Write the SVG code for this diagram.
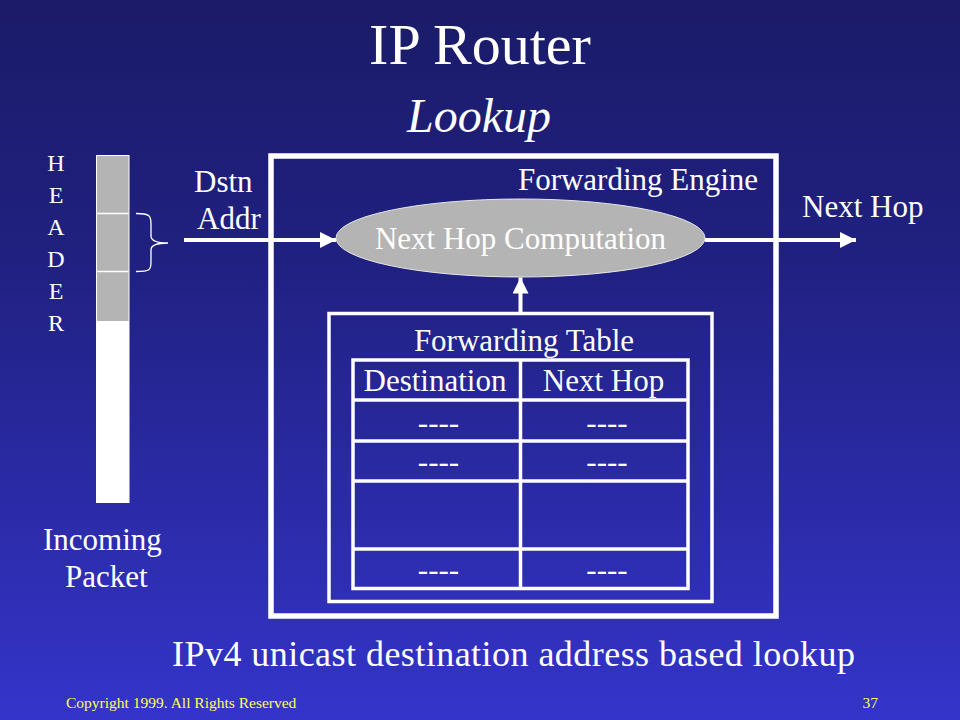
<svg xmlns="http://www.w3.org/2000/svg" width="960" height="720" viewBox="0 0 960 720">
<defs>
<linearGradient id="bg" x1="0" y1="0" x2="0" y2="1">
<stop offset="0" stop-color="#1b1b69"/>
<stop offset="0.35" stop-color="#202080"/>
<stop offset="1" stop-color="#3434ca"/>
</linearGradient>
<marker id="ah" viewBox="0 0 10 10" refX="10" refY="5" markerWidth="4" markerHeight="4" markerUnits="strokeWidth" orient="auto">
<path d="M0,0 L10,5 L0,10 z" fill="#ffffff"/>
</marker>
<style>
text{font-family:"Liberation Serif","Times New Roman",serif;fill:#ffffff}
.t{font-size:31px}
.c{text-anchor:middle}
.box{fill:none;stroke:#ffffff}
.conn{stroke:#ffffff;stroke-width:4;fill:none}
.foot{font-size:15.5px;fill:#ffff55}
</style>
</defs>
<rect x="0" y="0" width="960" height="720" fill="url(#bg)"/>

<g id="title">
<text x="480" y="64" class="c" font-size="58">IP Router</text>
<text x="479" y="132" class="c" font-size="48" font-style="italic">Lookup</text>
</g>

<g id="packet">
<rect x="96.5" y="155.5" width="32.5" height="347" fill="#ffffff" stroke="#ffffff" stroke-width="1"/>
<rect x="97" y="156" width="31.5" height="165" fill="#b4b4b4"/>
<line x1="97" y1="213.5" x2="128.5" y2="213.5" stroke="#ffffff" stroke-width="1.5"/>
<line x1="97" y1="271.5" x2="128.5" y2="271.5" stroke="#ffffff" stroke-width="1.5"/>
<path d="M136,213.5 C150,213.5 151,216 151,224 L151,236 C151,241 156,243 168,243 C156,243 151,245 151,250 L151,262 C151,270 150,271.5 136,271.5" fill="none" stroke="#ffffff" stroke-width="1.3"/>
<g font-size="24" class="c">
<text x="56" y="171" class="c" font-size="24">H</text>
<text x="56" y="203" class="c" font-size="24">E</text>
<text x="56" y="235" class="c" font-size="24">A</text>
<text x="56" y="267" class="c" font-size="24">D</text>
<text x="56" y="299" class="c" font-size="24">E</text>
<text x="56" y="331" class="c" font-size="24">R</text>
</g>
<text x="43" y="550" class="t">Incoming</text>
<text x="65" y="587" class="t">Packet</text>
</g>

<g id="engine">
<rect x="271" y="156" width="505" height="460" class="box" stroke-width="5.5"/>
<text x="638" y="190" class="t c">Forwarding Engine</text>
</g>

<g id="nexthopcomp">
<ellipse cx="520.5" cy="238" rx="184.5" ry="39" fill="#b4b4b4" stroke="#e6e6e6" stroke-width="1"/>
<text x="520.5" y="249" class="t c">Next Hop Computation</text>
</g>

<g id="table">
<rect x="329" y="313.5" width="383" height="288" class="box" stroke-width="3.5"/>
<text x="524" y="351" class="t c">Forwarding Table</text>
<rect x="353" y="360" width="335" height="228.5" class="box" stroke-width="3.5"/>
<line x1="520.5" y1="360" x2="520.5" y2="588.5" stroke="#ffffff" stroke-width="3.5"/>
<line x1="353" y1="400" x2="688" y2="400" stroke="#ffffff" stroke-width="3.5"/>
<line x1="353" y1="441" x2="688" y2="441" stroke="#ffffff" stroke-width="3.5"/>
<line x1="353" y1="481" x2="688" y2="481" stroke="#ffffff" stroke-width="3.5"/>
<line x1="353" y1="549" x2="688" y2="549" stroke="#ffffff" stroke-width="3.5"/>
<text x="435" y="391" class="t c">Destination</text>
<text x="603.5" y="391" class="t c">Next Hop</text>
<text x="438.5" y="433" class="t c">----</text>
<text x="607" y="433" class="t c">----</text>
<text x="438.5" y="472" class="t c">----</text>
<text x="607" y="472" class="t c">----</text>
<text x="438.5" y="580" class="t c">----</text>
<text x="607" y="580" class="t c">----</text>
</g>

<g id="labels">
<text x="194" y="192" class="t">Dstn</text>
<text x="197" y="229" class="t">Addr</text>
<text x="802" y="217" class="t">Next Hop</text>
<text x="172" y="666" font-size="36" textLength="683" lengthAdjust="spacing">IPv4 unicast destination address based lookup</text>
<text x="66" y="708" class="foot">Copyright 1999. All Rights Reserved</text>
<text x="878" y="708" class="foot" text-anchor="end">37</text>
</g>

<g id="connectors">
<line x1="184" y1="240" x2="336" y2="240" class="conn" marker-end="url(#ah)"/>
<line x1="705" y1="240" x2="856" y2="240" class="conn" marker-end="url(#ah)"/>
<line x1="520.5" y1="312" x2="520.5" y2="277.5" class="conn" marker-end="url(#ah)"/>
</g>
</svg>
